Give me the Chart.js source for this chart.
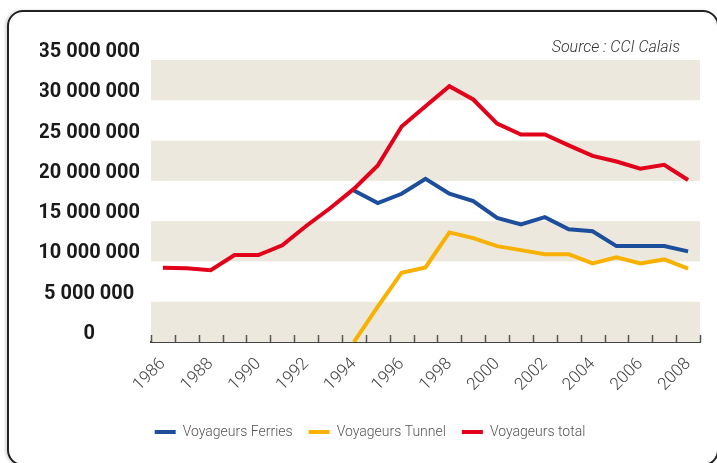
<!DOCTYPE html>
<html>
<head>
<meta charset="utf-8">
<script src="https://cdn.jsdelivr.net/npm/chart.js@4"></script>
<style>
    html, body { margin: 0; padding: 0; background: #fff; overflow: hidden; }
    body { width: 717px; height: 463px; position: relative; }
    #frame {
        position: absolute; left: 7px; top: 10px; width: 712px; height: 456px;
        border: 2px solid #222; border-radius: 16px; box-sizing: border-box;
        box-shadow: -2px 0 3px rgba(0,0,0,0.15);
    }
    #chart { position: absolute; left: 0; top: 0; }
</style>
</head>
<body>
<div id="frame"></div>
<canvas id="chart" width="717" height="463"></canvas>
<script>
const years = ['1986', '1987', '1988', '1989', '1990', '1991', '1992', '1993', '1994', '1995', '1996', '1997',
    '1998', '1999', '2000', '2001', '2002', '2003', '2004', '2005', '2006', '2007', '2008'];
const ferries = [null, null, null, null, null, null, null, null, 18800000, 17250000, 18400000, 20250000,
    18400000, 17500000, 15400000, 14600000, 15500000, 14000000, 13750000, 11900000, 11900000, 11900000, 11250000];
const tunnel = [null, null, null, null, null, null, null, null, 0, 4400000, 8600000, 9250000,
    13600000, 12900000, 11900000, 11400000, 10900000, 10900000, 9750000, 10500000, 9750000, 10250000, 9100000];
const total = [9200000, 9150000, 8900000, 10800000, 10800000, 12000000, 14400000, 16600000, 19000000, 21900000, 26750000, 29250000,
    31750000, 30100000, 27100000, 25750000, 25750000, 24400000, 23100000, 22400000, 21500000, 22000000, 20100000];
const seriesNames = ['Voyageurs Ferries', 'Voyageurs Tunnel', 'Voyageurs total'];
const sourceText = 'Source : CCI Calais';

const font = 'Roboto, "DejaVu Sans Condensed", sans-serif';

function spaced(v) {
    return String(v).replace(/\B(?=(\d{3})+(?!\d))/g, ' ');
}

// beige bands every other 5 000 000 step
const bandsPlugin = {
    id: 'bands',
    beforeDatasetsDraw(chart) {
        const { ctx, chartArea, scales } = chart;
        const y = scales.y;
        ctx.save();
        ctx.fillStyle = '#ece8dd';
        for (let v = 0; v < y.max; v += 10000000) {
            const top = y.getPixelForValue(v + 5000000);
            const bottom = y.getPixelForValue(v);
            ctx.fillRect(chartArea.left, top, chartArea.right - chartArea.left, bottom - top);
        }
        ctx.restore();
    }
};

// small tick marks pointing up from the axis, plus the source line
const extrasPlugin = {
    id: 'extras',
    afterDraw(chart) {
        const { ctx, chartArea, scales } = chart;
        const x = scales.x;
        const n = years.length;
        ctx.save();
        ctx.strokeStyle = '#555';
        ctx.lineWidth = 1.5;
        ctx.beginPath();
        for (let i = 0; i <= n; i++) {
            const px = Math.round(x.left + i * (x.width / n)) + 0.5;
            ctx.moveTo(px, chartArea.bottom - 7);
            ctx.lineTo(px, chartArea.bottom);
        }
        ctx.stroke();
        ctx.fillStyle = '#333';
        ctx.font = 'italic 300 16px ' + font;
        ctx.textAlign = 'right';
        ctx.textBaseline = 'middle';
        ctx.fillText(sourceText, chartArea.right - 20, 48);
        ctx.restore();
    }
};

new Chart(document.getElementById('chart'), {
    type: 'line',
    data: {
        labels: years,
        datasets: [
            { label: seriesNames[0], data: ferries, borderColor: '#1d4e9b', backgroundColor: '#1d4e9b', order: 2 },
            { label: seriesNames[1], data: tunnel, borderColor: '#f8b100', backgroundColor: '#f8b100', order: 3 },
            { label: seriesNames[2], data: total, borderColor: '#e2001a', backgroundColor: '#e2001a', order: 1 }
        ]
    },
    options: {
        responsive: false,
        animation: false,
        spanGaps: false,
        elements: {
            line: { borderWidth: 4, tension: 0 },
            point: { radius: 0 }
        },
        layout: { padding: { left: 40, right: 17, top: 60, bottom: 14 } },
        scales: {
            x: {
                type: 'category',
                offset: true,
                grid: { display: false, drawTicks: false },
                border: { display: true, color: '#444', width: 2 },
                ticks: {
                    autoSkip: false,
                    minRotation: 45,
                    maxRotation: 45,
                    padding: 12,
                    color: '#444',
                    font: { family: font, size: 17, weight: 300 },
                    callback: function(value, index) {
                        return index % 2 === 0 ? this.getLabelForValue(value) : '';
                    }
                },
                afterFit(scale) { scale.height = 67; }
            },
            y: {
                min: 0,
                max: 35000000,
                grid: { display: false, drawTicks: false },
                border: { display: false },
                ticks: {
                    stepSize: 5000000,
                    padding: 11,
                    crossAlign: 'center',
                    labelOffset: -8,
                    color: '#1a1a1a',
                    font: { family: font, size: 20, weight: 'bold' },
                    callback: v => spaced(v)
                },
                afterFit(scale) { scale.width = 111; }
            }
        },
        plugins: {
            tooltip: { enabled: false },
            legend: {
                position: 'bottom',
                labels: {
                    boxWidth: 21,
                    boxHeight: 4,
                    padding: 16,
                    color: '#555',
                    font: { family: font, size: 14, weight: 300 },
                    sort: (a, b) => a.datasetIndex - b.datasetIndex,
                    generateLabels(chart) {
                        return Chart.defaults.plugins.legend.labels.generateLabels(chart).map(item => {
                            item.lineWidth = 0;
                            item.strokeStyle = item.fillStyle;
                            return item;
                        });
                    }
                }
            }
        }
    },
    plugins: [bandsPlugin, extrasPlugin]
});
</script>
</body>
</html>
